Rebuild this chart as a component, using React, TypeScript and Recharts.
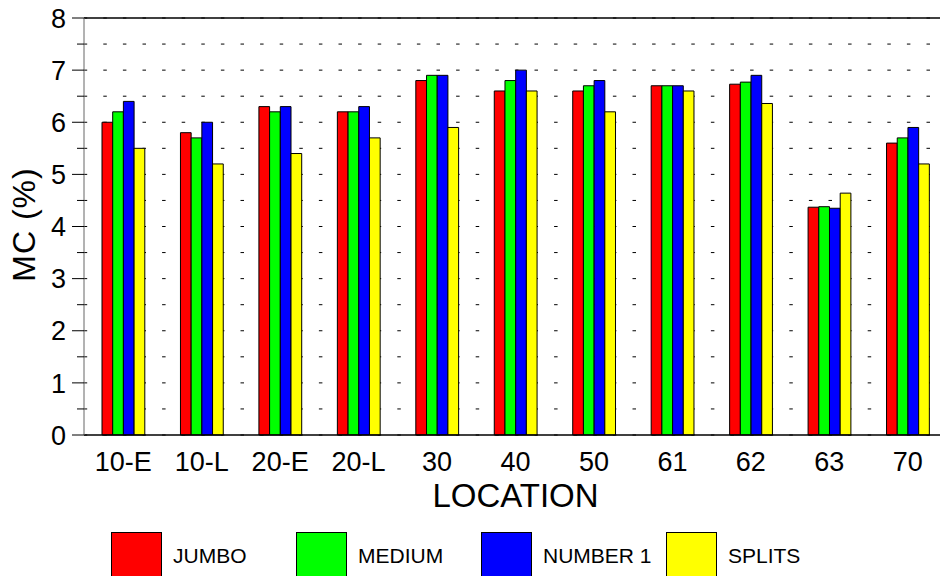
import React from "react";
import {
  Bar,
  BarChart,
  CartesianGrid,
  ReferenceLine,
  XAxis,
  YAxis,
} from "recharts";

const locations = ["10-E", "10-L", "20-E", "20-L", "30", "40", "50", "61", "62", "63", "70"];
const jumbo = [6.0, 5.8, 6.3, 6.2, 6.8, 6.6, 6.6, 6.7, 6.73, 4.37, 5.6];
const medium = [6.2, 5.7, 6.2, 6.2, 6.9, 6.8, 6.7, 6.7, 6.77, 4.38, 5.7];
const number1 = [6.4, 6.0, 6.3, 6.3, 6.9, 7.0, 6.8, 6.7, 6.9, 4.35, 5.9];
const splits = [5.5, 5.2, 5.4, 5.7, 5.9, 6.6, 6.2, 6.6, 6.36, 4.64, 5.2];
const yTicks = [0, 0.5, 1, 1.5, 2, 2.5, 3, 3.5, 4, 4.5, 5, 5.5, 6, 6.5, 7, 7.5, 8];

const series = [
  { key: "jumbo", name: "JUMBO", color: "#ff0000" },
  { key: "medium", name: "MEDIUM", color: "#00ff00" },
  { key: "number1", name: "NUMBER 1", color: "#0000ff" },
  { key: "splits", name: "SPLITS", color: "#ffff00" },
];

const data = locations.map((loc, i) => ({
  loc,
  jumbo: jumbo[i],
  medium: medium[i],
  number1: number1[i],
  splits: splits[i],
}));

const FONT = '"Liberation Sans", Arial, sans-serif';

function YTick(props: any) {
  const { x, y, payload } = props;
  const v = payload.value;
  const major = Number.isInteger(v);
  return (
    <g>
      <line x1={major ? x - 12 : x - 7} x2={x} y1={y} y2={y} stroke="#000" strokeWidth={1} />
      {major && (
        <text x={x - 18} y={y} dy="0.36em" textAnchor="end" fontSize={27} fill="#000">
          {v}
        </text>
      )}
    </g>
  );
}

function XTick(props: any) {
  const { x, y, payload } = props;
  return (
    <text x={x} y={y + 36} textAnchor="middle" fontSize={27} fill="#000">
      {payload.value}
    </text>
  );
}

function YLabel(props: any) {
  const { viewBox } = props;
  const cx = viewBox.x + 35;
  const cy = viewBox.y + viewBox.height / 2 - 2;
  return (
    <text
      x={cx}
      y={cy}
      transform={`rotate(-90, ${cx}, ${cy})`}
      textAnchor="middle"
      fontSize={32}
      letterSpacing={1}
      fill="#000"
    >
      MC (%)
    </text>
  );
}

function Legend() {
  return (
    <svg
      width={940}
      height={44}
      style={{ position: "absolute", left: 0, top: 532 }}
    >
      {series.map((s, i) => (
        <g key={s.key}>
          <rect x={111.5 + i * 185} y={0.5} width={50} height={50} fill={s.color} stroke="#000" />
          <text x={173 + i * 185} y={30.5} fontSize={21} fill="#000">
            {s.name}
          </text>
        </g>
      ))}
    </svg>
  );
}

export default function App() {
  return (
    <div
      style={{
        position: "absolute",
        left: 0,
        top: 0,
        width: 940,
        height: 576,
        overflow: "hidden",
        background: "#fff",
        fontFamily: FONT,
      }}
    >
      <BarChart
        width={960}
        height={576}
        data={data}
        barSize={10.7}
        barGap={0}
        margin={{ top: 18, right: 13, left: 0, bottom: 66 }}
      >
        <CartesianGrid
          vertical={false}
          stroke="#000"
          strokeDasharray="3.5 16.1"
          strokeDashoffset={0.3}
        />
        <XAxis
          dataKey="loc"
          height={75}
          tickLine={false}
          tickSize={0}
          tickMargin={0}
          axisLine={{ stroke: "#000", strokeWidth: 1.5 }}
          tick={<XTick />}
          interval={0}
          label={{ value: "LOCATION", position: "insideBottom", offset: 3, fontSize: 33, fill: "#000" }}
        />
        <YAxis
          width={84}
          domain={[0, 8]}
          ticks={yTicks}
          interval={0}
          tickLine={false}
          tickSize={0}
          tickMargin={0}
          axisLine={{ stroke: "#666", strokeWidth: 1 }}
          tick={<YTick />}
          label={<YLabel />}
        />
        <ReferenceLine y={8} stroke="#000" strokeWidth={1.5} />
        {series.map((s) => (
          <Bar
            key={s.key}
            dataKey={s.key}
            name={s.name}
            fill={s.color}
            stroke="#000"
            strokeWidth={1}
            isAnimationActive={false}
          />
        ))}
      </BarChart>
      <Legend />
    </div>
  );
}
